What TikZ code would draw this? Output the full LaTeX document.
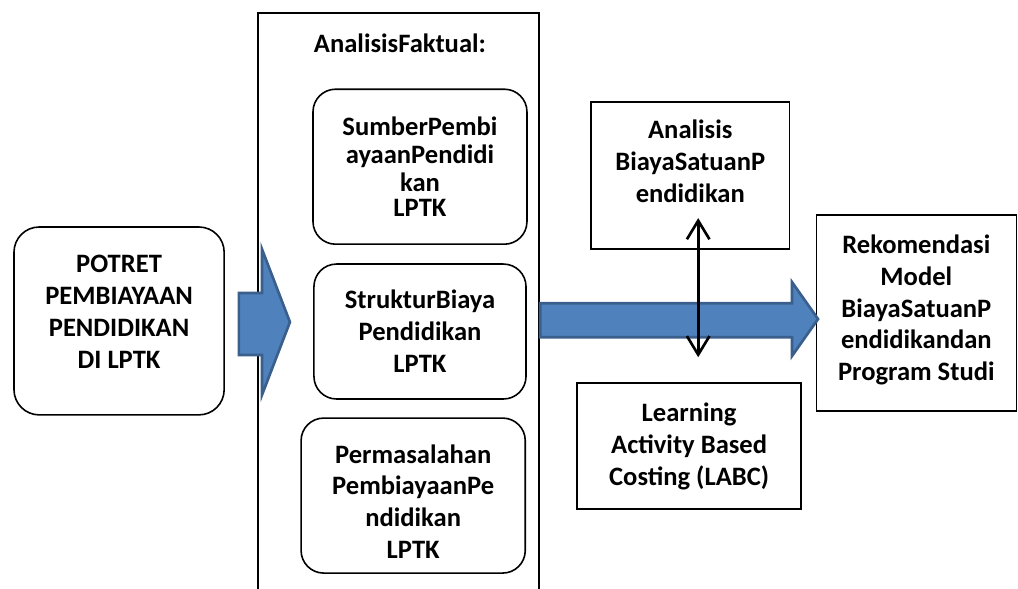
\documentclass[tikz,border=0pt]{standalone}
\usepackage{fontspec}
\setmainfont{Carlito}
\usetikzlibrary{arrows.meta}

\definecolor{birupanah}{HTML}{4F81BD}
\definecolor{birutepi}{HTML}{3A5F8C}

\begin{document}
\begin{tikzpicture}[
  font=\bfseries\fontsize{20}{24}\selectfont,
  bulat/.style={
    rectangle,
    draw,
    line width=1.2pt,
    rounded corners=17pt,
    align=center,
    inner sep=0pt
  },
  kotak/.style={
    rectangle,
    draw,
    line width=1.2pt,
    align=center,
    inner sep=0pt
  },
  bingkai/.style={
    line width=1.3pt
  },
  panah/.style={
    fill=birupanah,
    draw=birutepi,
    line width=2pt,
    line join=miter
  },
  timbal/.style={
    {Straight Barb[length=14pt,width=17pt]}-{Straight Barb[length=14pt,width=17pt]},
    line width=2pt
  }
]

\useasboundingbox (0,0) rectangle (26.93,-15.56);

% =========================================================
% POTRET
% =========================================================

\node[bulat, rounded corners=19pt, minimum width=5.56cm, minimum height=4.97cm,
      text depth=13.5pt]
  (potret) at (3.15,-8.49)
  {POTRET\\PEMBIAYAAN\\PENDIDIKAN\\DI LPTK};


% =========================================================
% ANALISIS FAKTUAL
% =========================================================

\draw[bingkai]
  (6.83,-15.70) -- (6.83,-0.34) -- (14.26,-0.34) -- (14.26,-15.70);

\node[anchor=base] (faktual) at (10.58,-1.40) {AnalisisFaktual:};

\node[bulat, minimum width=5.66cm, minimum height=4.10cm]
  (sumber) at (11.11,-4.41)
  {SumberPembi\\[-2.5pt]ayaanPendidi\\[-3pt]kan\\[-5pt]LPTK};

\node[bulat, minimum width=5.61cm, minimum height=3.57cm]
  (struktur) at (11.11,-8.77)
  {StrukturBiaya\\Pendidikan\\LPTK};

\node[bulat, minimum width=5.93cm, minimum height=4.10cm, text height=95pt]
  (masalah) at (10.93,-13.11)
  {Permasalahan\\PembiayaanPe\\ndidikan\\LPTK};


% =========================================================
% BIAYA SATUAN
% =========================================================

\node[kotak, minimum width=5.24cm, minimum height=3.89cm, text depth=21pt]
  (analisis) at (18.26,-4.64)
  {Analisis\\BiayaSatuanP\\endidikan};

\node[kotak, minimum width=5.93cm, minimum height=3.33cm]
  (labc) at (18.23,-11.80)
  {Learning\\Activity Based\\Costing (LABC)};

\node[kotak, minimum width=5.29cm, minimum height=5.19cm, text depth=8pt]
  (rekom) at (24.24,-8.28)
  {Rekomendasi\\Model\\BiayaSatuanP\\endidikandan\\Program Studi};


% =========================================================
% PANAH
% =========================================================

% masuk ke analisis faktual
\draw[panah]
  (7.67,-8.52) -- (6.93,-6.59) -- (6.93,-7.75) -- (6.32,-7.75)
  -- (6.32,-9.39) -- (6.93,-9.39) -- (6.93,-10.45) -- cycle;

% menuju rekomendasi
\draw[panah]
  (21.64,-8.44) -- (20.95,-7.46) -- (20.95,-8.02) -- (14.29,-8.02)
  -- (14.29,-8.92) -- (20.95,-8.92) -- (20.95,-9.42) -- cycle;

% analisis <-> LABC
\coordinate (atas) at (18.47,-5.77);
\coordinate (bawah) at (18.47,-9.45);

\draw[timbal] (atas) -- (bawah);

\end{tikzpicture}
\end{document}
